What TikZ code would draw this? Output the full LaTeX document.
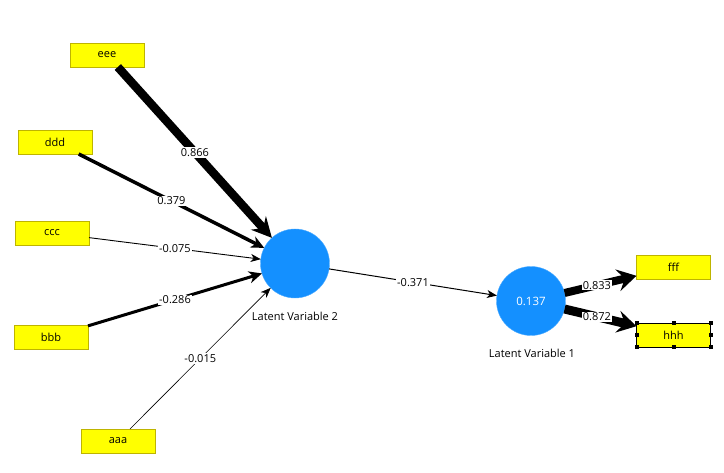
\documentclass[tikz,border=0pt]{standalone}
\usepackage{fontspec}
\setmainfont{Open Sans}
\usetikzlibrary{arrows.meta, math}
\definecolor{lvblue}{RGB}{20,144,255}
\definecolor{indyellow}{RGB}{255,255,0}
\definecolor{indedge}{RGB}{190,180,0}

\begin{document}
\begin{tikzpicture}[x=1pt,y=-1pt,
  ind/.style={draw=indedge, fill=indyellow, minimum width=74pt, minimum height=24pt,
    inner sep=0pt, outer sep=0pt, font=\fontsize{11}{13}\selectfont},
  lv/.style={circle, fill=lvblue, draw=lvblue!75!white, minimum size=69pt, inner sep=0pt,
    outer sep=0pt, text=white, font=\fontsize{11.5}{13}\selectfont},
  lvname/.style={inner sep=0pt, font=\fontsize{11}{13}\selectfont},
  wt/.style={midway, fill=white, inner sep=1pt, font=\fontsize{11}{13}\selectfont},
]
\tikzmath{
\W=724;
\H=473;
}
\useasboundingbox (0,0) rectangle (\W,\H);

%indicators
\node[ind] (eee) at (107,55) {eee};
\node[ind] (ddd) at (55,142) {ddd};
\node[ind] (ccc) at (52,233) {ccc};
\node[ind] (bbb) at (51,337) {bbb};
\node[ind] (aaa) at (118,441) {aaa};
\node[ind] (fff) at (673.5,267) {fff};
\node[ind, draw=black] (hhh) at (673.5,335) {hhh};

%latent variables
\node[lv] (lvtwo) at (295,263.5) {};
\node[lv] (lvone) at (531,301) {0.137};
\node[lvname] (lvtwoname) at (295,316) {Latent Variable 2};
\node[lvname] (lvonename) at (532,353) {Latent Variable 1};

%outer weights
\draw[-{Stealth[length=20pt,width=20pt,inset=7pt]}, line width=8.5pt] (eee) -- (lvtwo) node[wt]{0.866};
\draw[-{Stealth[length=13pt,width=12pt,inset=4pt]}, line width=3.5pt] (ddd) -- (lvtwo) node[wt]{0.379};
\draw[-{Stealth[length=10pt,width=8pt,inset=3pt]}, line width=0.9pt] (ccc) -- (lvtwo) node[wt]{-0.075};
\draw[-{Stealth[length=13pt,width=12pt,inset=4pt]}, line width=3pt] (bbb) -- (lvtwo) node[wt]{-0.286};
\draw[-{Stealth[length=10pt,width=8pt,inset=3pt]}, line width=0.6pt] (aaa) -- (lvtwo) node[wt]{-0.015};

%path
\draw[-{Stealth[length=10pt,width=8pt,inset=3pt]}, line width=1pt] (lvtwo) -- (lvone) node[wt]{-0.371};

%outer loadings
\draw[-{Stealth[length=19pt,width=22pt,inset=7pt]}, line width=8pt] (lvone) -- (fff) node[wt, pos=0.45]{0.833};
\draw[-{Stealth[length=19pt,width=22pt,inset=7pt]}, line width=9pt] (lvone) -- (hhh) node[wt, pos=0.45]{0.872};

%selection handles
\foreach \a in {north west,north,north east,east,south east,south,south west,west}
  \fill (hhh.\a) ++(-2,-2) rectangle ++(4,4);
\end{tikzpicture}
\end{document}
